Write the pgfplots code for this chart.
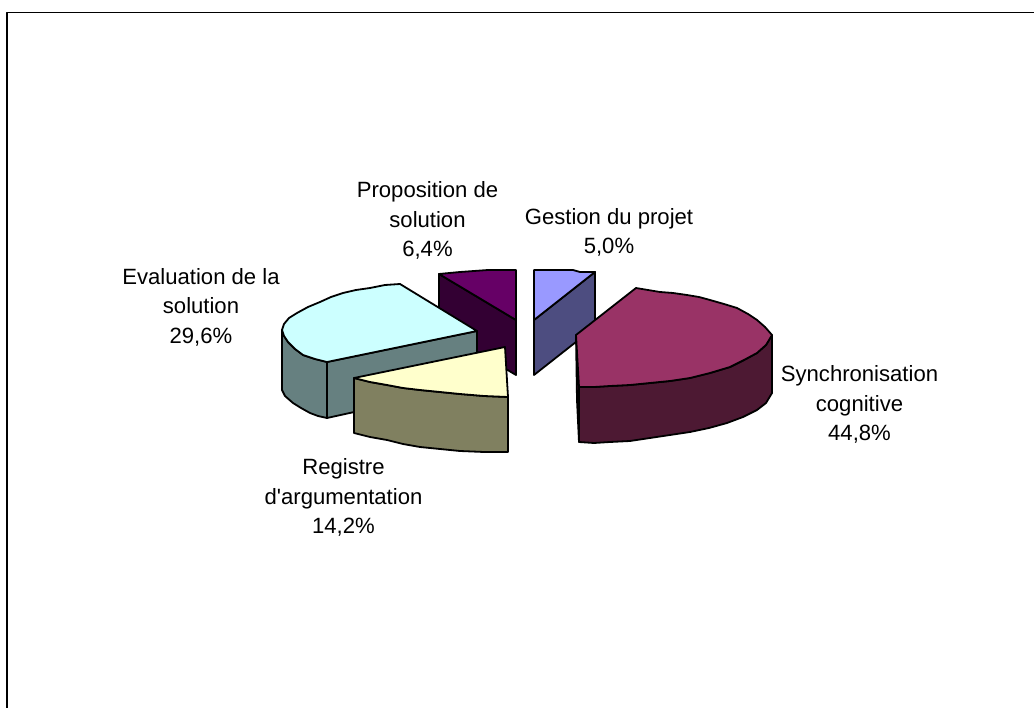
\documentclass[border=0pt]{standalone}
\usepackage{pgfplots}
\pgfplotsset{compat=1.18}
\usepackage{fontspec}
\setmainfont{Liberation Sans}[Ligatures=TeXOff]
\definecolor{cyanT}{HTML}{CCFFFF}\definecolor{cyanS}{HTML}{668080}
\definecolor{purT}{HTML}{660066}\definecolor{purS}{HTML}{330033}
\definecolor{creT}{HTML}{FFFFCC}\definecolor{creS}{HTML}{808060}
\definecolor{perT}{HTML}{9999FF}\definecolor{perS}{HTML}{4D4D80}
\definecolor{marT}{HTML}{993366}\definecolor{marS}{HTML}{4D1933}
\tikzset{lab/.style={align=center, text=black, font=\fontsize{22.1}{29.5}\selectfont, inner sep=0pt}}
\begin{document}
\begin{tikzpicture}
\begin{axis}[
  scale only axis, width=1034pt, height=708pt,
  xmin=0, xmax=1034, ymin=0, ymax=708, y dir=reverse,
  hide axis, clip=true,
  every axis plot/.append style={line width=1.8pt, line join=round, draw=black, mark=none},
]
\path (axis cs:0,0) rectangle (axis cs:1034,708);
% frame
\addplot[line width=1.7pt] coordinates {(7.3,710) (7.3,12.5) (1036,12.5)};
% Proposition de solution
\addplot[fill=purS] coordinates {(439,274) (516,320) (516,375) (439,329)} --cycle;
\addplot[fill=purT] coordinates {(439,274) (460,272) (488,270) (516,270) (516,320)} --cycle;
% Gestion du projet
\addplot[fill=perS] coordinates {(595,272) (534,320) (534,375) (595,327)} --cycle;
\addplot[fill=perT] coordinates {(534,270) (573,270) (580,272) (595,272) (534,320)} --cycle;
% Evaluation de la solution
\addplot[fill=cyanS] coordinates {(282,330) (284,336) (288,342) (295,349) (303,355) (315,359) (327,362) (327,418) (318,416) (310,413) (301,408) (293,403) (285,396) (282,390)} --cycle;
\addplot[fill=cyanS] coordinates {(327,362) (477,331) (477,385) (327,418)} --cycle;
\addplot[fill=cyanT] coordinates {(400,284) (385,285) (370,288) (356,290) (343,293) (331,297) (320,302) (308,307) (297,313) (289,318) (284,324) (282,330) (284,336) (288,342) (295,349) (303,355) (315,359) (327,362) (477,331)} --cycle;
% Registre d'argumentation
\addplot[fill=creS] coordinates {(354,378) (370,382) (387,385) (403,388) (420,390) (440,392) (460,394) (484,396) (508,397) (508,452) (484,452) (460,451) (440,449) (420,447) (403,444) (387,440) (370,437) (354,433)} --cycle;
\addplot[fill=creT] coordinates {(354,378) (505,347) (508,397) (484,396) (460,394) (440,392) (420,390) (403,388) (387,385) (370,382)} --cycle;
% Synchronisation cognitive
\addplot[fill=marS] coordinates {(576,335) (579,387) (579,442) (577,400)} --cycle;
\addplot[fill=marS] coordinates {(579,387) (594,387) (610,386) (630,385) (650,383) (670,381) (690,378) (710,373) (730,367) (744,360) (757,353) (766,345) (772,335) (772,393) (766,403) (757,410) (743,417) (727,423) (709,428) (690,432) (670,435) (650,438) (630,441) (610,442) (594,443) (579,442)} --cycle;
\addplot[fill=marT] coordinates {(636,288) (648,290) (660,292) (673,293) (687,295) (699,297) (710,300) (724,304) (737,308) (748,314) (757,320) (765,327) (772,335) (766,345) (757,353) (744,360) (730,367) (710,373) (690,378) (670,381) (650,383) (630,385) (610,386) (594,387) (579,387) (576,335)} --cycle;
% labels
\node[lab] at (axis cs:427.5,220.5) {Proposition de\\solution\\6,4\%};
\node[lab] at (axis cs:609,232.5) {Gestion du projet\\5,0\%};
\node[lab] at (axis cs:201,307) {Evaluation de la\\solution\\29,6\%};
\node[lab] at (axis cs:859.5,404.5) {Synchronisation\\cognitive\\44,8\%};
\node[lab] at (axis cs:343.5,497.5) {Registre\\d'argumentation\\14,2\%};
\end{axis}
\end{tikzpicture}
\end{document}
